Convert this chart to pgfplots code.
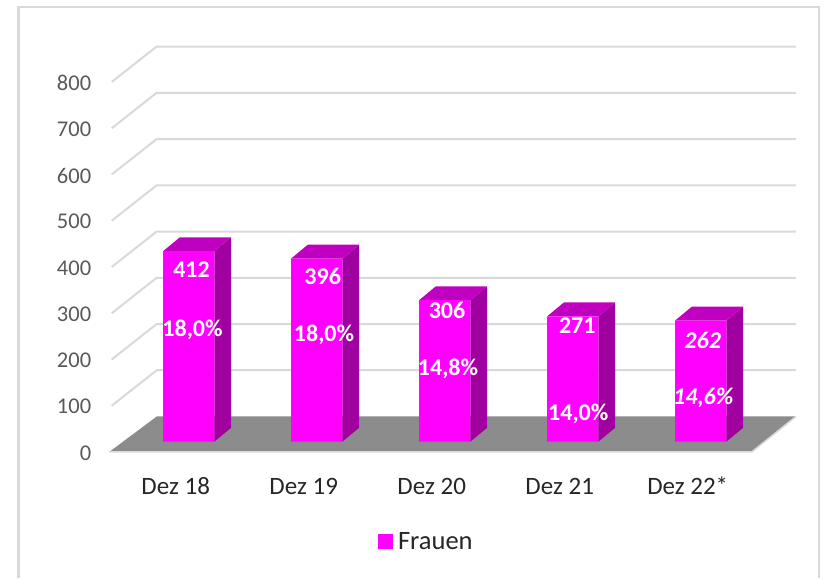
\documentclass[border=0pt]{standalone}
\usepackage{fontspec}
\setmainfont{Carlito}
\usepackage{pgfplots}
\usepackage{pgfplotstable}
\pgfplotsset{compat=1.18}
\definecolor{barfront}{HTML}{FF00FF}
\definecolor{barside}{HTML}{A000A0}
\definecolor{bartop}{HTML}{C000C0}
\definecolor{floorc}{HTML}{8C8C8C}
\definecolor{gridc}{HTML}{D9D9D9}
\definecolor{ticktxt}{HTML}{595959}
\definecolor{cattxt}{HTML}{262626}
\pgfplotstableread{
x v
0 412
1 396
2 306
3 271
4 262
}\frauen
% grid line at tick value #1 (value axis zero of the bars lies 22.3 above the printed 0)
\newcommand\depthgrid[1]{%
  \pgfmathsetmacro\ya{#1-22.3}\pgfmathsetmacro\yb{#1+54.46}%
  \addplot[forget plot,no marks,gridc,line width=2pt] coordinates {(-0.6039,\ya)(-0.2523,\yb)(4.742,\yb)};%
}
\newcommand\barfaces[2]{%
  \pgfmathsetmacro\xl{#1-0.202}\pgfmathsetmacro\xr{#1+0.198}%
  \pgfmathsetmacro\xb{#1-0.0715}\pgfmathsetmacro\xd{#1+0.3285}%
  \pgfmathsetmacro\yd{#2+30}%
  \addplot[forget plot,no marks,draw=none,fill=barside] coordinates {(\xr,0)(\xd,30)(\xd,\yd)(\xr,#2)} --cycle;%
  \addplot[forget plot,no marks,draw=none,fill=bartop] coordinates {(\xl,#2)(\xb,\yd)(\xd,\yd)(\xr,#2)} --cycle;%
}
\newcommand\lab[4][]{%
  \node[text=white,font=\fontsize{24}{27}\selectfont\bfseries#1,inner sep=0pt] at (axis cs:{(#2-189)/128},{(441.7-#3)/0.4625}) {#4};%
}
\begin{document}
\begin{tikzpicture}
\begin{axis}[
  scale only axis,
  width=640pt,height=370pt,
  xmin=-0.6039,xmax=4.396,
  ymin=-22.3,ymax=777.7,
  clip=false,
  axis line style={draw=none},
  tick style={draw=none},
  xtick={0,1,2,3,4},
  xticklabels={Dez 18,Dez 19,Dez 20,Dez 21,Dez 22*},
  xticklabel style={xshift=-13.3pt,yshift=-34pt,text=cattxt,font=\fontsize{25}{28}\selectfont,anchor=center},
  ytick={-22.3,77.7,177.7,277.7,377.7,477.7,577.7,677.7,777.7},
  yticklabels={0,100,200,300,400,500,600,700,800},
  yticklabel style={xshift=-17pt,yshift=-1pt,text=ticktxt,font=\fontsize{22.5}{26}\selectfont},
  legend style={at={(0.494,-0.2425)},anchor=center,draw=none,fill=none,
    font=\fontsize{26.5}{30}\selectfont,text=cattxt,inner sep=0pt,nodes={inner xsep=5.5pt,inner ysep=0pt}},
  legend image code/.code={\fill[barfront] (0pt,-7.5pt) rectangle (15pt,7.5pt);},
  legend cell align=left,
]
% outer frame, open at the bottom
\path (axis cs:-1.4766,955.03) rectangle (axis cs:4.9766,-294.7);
\draw[gridc,line width=2.5pt] (axis cs:-1.3305,-294.7) -- (axis cs:-1.3305,940) -- (axis cs:4.9219,940) -- (axis cs:4.9219,-294.7);
\depthgrid{100}\depthgrid{200}\depthgrid{300}\depthgrid{400}
\depthgrid{500}\depthgrid{600}\depthgrid{700}\depthgrid{800}
% floor
\addplot[forget plot,no marks,draw=none,fill=floorc] coordinates {(-0.6239,-22.3)(4.396,-22.3)(4.742,54.46)(-0.2523,54.46)} --cycle;
\addplot[forget plot,no marks,gridc,line width=1.5pt] coordinates {(-0.6239,-22.3)(4.396,-22.3)(4.742,54.46)};
\barfaces{0}{412}\barfaces{1}{396}\barfaces{2}{306}\barfaces{3}{271}\barfaces{4}{262}
\addplot[ybar,bar width=51.2pt,bar shift=-0.25pt,draw=none,fill=barfront] table[x=x,y=v] {\frauen};
\addlegendentry{Frauen}
\lab{191.5}{270}{412}
\lab{192.5}{330}{18,0\%}
\lab{322.7}{276}{396}
\lab{324}{335}{18,0\%}
\lab{447}{310}{306}
\lab{448}{369}{14,8\%}
\lab{577.3}{325.7}{271}
\lab{578.3}{414.3}{14,0\%}
\lab[\itshape]{702.7}{340}{262}
\lab[\itshape]{703.3}{398.3}{14,6\%}
\end{axis}
\end{tikzpicture}
\end{document}
